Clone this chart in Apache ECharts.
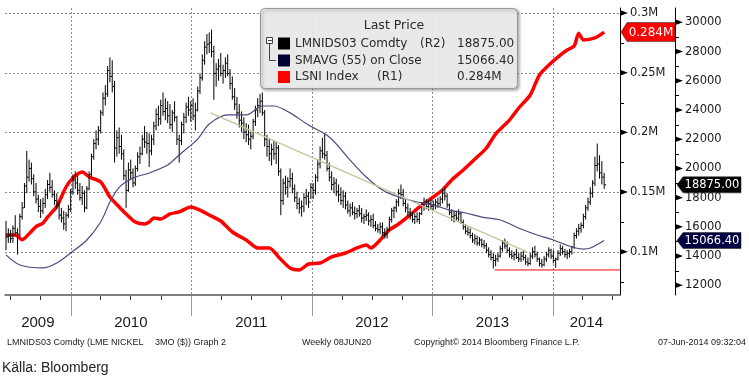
<!DOCTYPE html>
<html><head><meta charset="utf-8">
<script src="https://cdn.jsdelivr.net/npm/echarts@6/dist/echarts.min.js"></script>
<style>html,body{margin:0;padding:0;background:#fff}#c{width:749px;height:380px}</style>
</head><body><div id="c"></div>
<script>
// ---- data ----
const firstWeek = '2009-06-19';
const closes = [
15300,15400,15200,15900,15600,15500,16700,17300,18800,19400,
20000,19300,18400,17900,17400,17100,17600,18200,18900,18700,
18200,17800,17500,16800,16600,16200,16800,17200,18400,19200,
19000,18500,18000,18300,17300,18600,19600,20800,21700,22000,
22600,23800,24800,25100,26700,26300,25600,21400,22100,21500,
21000,19500,18500,19900,19700,19000,20000,20800,21000,22000,
21800,21700,21200,22000,22900,23700,23400,24300,23900,24100,
23600,23000,23800,23500,22000,21900,23000,23500,24200,24000,
24300,23600,24000,25300,26200,27400,28300,28500,28600,28000,
26500,26800,27000,26500,26700,27200,26500,25800,24900,24400,
23800,23300,23100,22500,22300,22000,22200,23200,24000,24300,
24600,23800,22000,21500,21000,21300,21000,21400,19800,17800,
19000,18700,19100,19300,18600,18000,17600,17300,17400,18000,
18100,17700,18700,18500,19400,20300,21200,21000,20900,20000,
19400,18900,19000,18400,18200,17800,18100,17500,17100,17300,
17000,16900,17100,16900,16600,16700,16800,16400,16500,16100,
15900,15800,16000,15600,15500,15800,16500,17100,17300,17700,
18300,18200,17600,17300,17000,16800,16500,16700,16500,16900,
17500,17600,17400,17600,17400,17500,17700,17600,17900,18300,
18100,17500,17000,16700,16800,16600,16900,16300,16000,15700,
15600,15400,15100,15200,14900,15100,14800,14700,14400,14100,
13900,13700,13800,14000,14500,14900,14700,14400,14100,14000,
14100,13900,13800,14000,13900,13600,13500,14000,14300,14100,
13800,13500,13400,13800,14100,14400,14000,13700,13800,14200,
14500,14300,14100,14200,14300,14600,15400,15700,15900,16100,
16700,17300,17700,18300,19000,20200,20300,19700,19400,18875];
const highs = [
16400,15900,15800,16100,16800,15900,16900,17700,19000,21200,
20600,20400,19600,19000,18200,17900,18000,18600,19200,19700,
19200,18500,18300,17800,17300,17100,17000,17500,18600,19600,
19800,19500,19000,18800,18500,18800,19800,21000,22000,22600,
22900,24000,25200,25700,27000,27600,27400,26000,22600,22800,
22300,21300,19900,20400,20600,20000,20200,21100,21500,22300,
22900,22500,22400,22300,23200,24100,24300,24700,25200,24800,
24600,24400,24000,24600,23600,22300,23200,23800,24500,24900,
24600,24800,24500,25600,26500,27800,28700,29200,29300,29500,
28400,27200,27500,27900,27100,27600,27800,26800,26300,25500,
24900,24400,23900,23500,23100,23000,22500,23400,24300,24800,
25100,25200,24000,22300,22000,21700,21900,21800,21600,20000,
19300,19500,19400,20000,19700,18900,18400,18000,17800,18300,
18600,18400,19000,19000,19600,20600,21500,22100,22400,21200,
20400,19800,19400,19300,18900,18700,18500,18400,17800,17600,
17700,17400,17300,17500,17300,16900,17200,17000,16800,16900,
16400,16200,16300,16300,15900,16000,16700,17300,17400,17900,
18600,18900,18600,17900,17600,17300,17000,16900,17000,17000,
17700,18000,17900,17800,17900,17800,17900,18000,18100,18600,
18700,18300,17600,17200,17100,17100,17200,17000,16500,16200,
16000,15900,15600,15500,15400,15300,15200,15100,14900,14600,
14400,14200,14100,14200,14700,15100,15200,15000,14600,14400,
14300,14500,14200,14300,14400,14100,13900,14200,14600,14700,
14300,13900,13800,14000,14300,14600,14500,14400,13900,14400,
14800,14700,14500,14400,14500,14700,15600,15900,16200,16300,
16900,17500,18000,18700,19200,20800,21700,20900,20500,19700];
const lows = [
14400,14900,14900,14900,15400,14100,15300,16500,17300,18300,
19100,18900,18100,17600,17000,16600,16900,17300,17900,18400,
18000,17500,17200,16500,16300,15800,15700,16600,17000,18200,
18600,18200,17800,17500,17000,17200,18500,19400,20600,21300,
21600,22400,23600,24300,24900,25900,25200,20400,20800,21000,
20600,19200,17300,18400,19200,18700,18800,19800,20300,20900,
21400,21000,20100,20900,21600,22600,22900,23000,23600,23300,
23100,22700,22500,23200,21600,20400,21600,22400,23100,23600,
23200,23300,22600,23900,25100,26000,27100,27800,27900,27600,
24700,25600,26000,26300,25800,26200,26300,25400,24700,24000,
23400,22800,22500,22000,21800,21600,21300,22000,22900,23500,
23800,23600,21500,20800,20500,20200,20600,20300,19500,16800,
17500,18200,18000,18700,18300,17700,17200,16900,16700,17000,
17500,17300,17900,17900,18200,19100,20000,20700,20600,19800,
19100,18500,18300,18100,17700,17500,17300,17200,16900,16700,
16800,16500,16600,16700,16300,16200,16400,16100,16000,15900,
15700,15600,15500,15400,15200,15200,15700,16300,16600,17000,
17400,17900,17400,17000,16700,16500,16300,16200,16300,16200,
16800,17100,17200,17100,17200,17100,17200,17300,17400,17600,
17800,17300,16800,16400,16300,16400,16400,16200,15800,15500,
15400,15200,14900,14800,14700,14700,14600,14500,14200,13900,
13700,13150,13300,13600,13900,14300,14500,14200,13900,13800,
13700,13800,13600,13600,13700,13400,13300,13400,13800,13900,
13600,13300,13200,13300,13600,13900,13800,13500,13200,13700,
14000,14100,13900,13800,13900,14100,14500,15200,15400,15600,
15900,16500,17100,17500,18000,18800,19800,19300,18900,18600];
// SMAVG (55) read at sample weeks
const smaWeeks  = [0,6,16,22,28,35,41,45,49,55,62,70,75,83,88,96,104,111,116,123,131,140,149,156,163,170,178,185,192,199,206,214,223,230,237,245,250,253,259];
const smaValues = [14080,13390,13190,13530,14210,15100,16330,17700,18700,19340,19690,20240,20920,22010,23040,23660,23660,24270,24270,23800,22970,22150,20570,19410,18520,18040,17700,17490,17150,16950,16670,16470,15850,15440,15100,14620,14480,14550,15066.4];
// LSNI Index (thousand tonnes) read at sample weeks
const lsniWeeks  = [0,4,7,10,13,16,18,22,26,29,33,36,41,45,49,52,56,60,62,64,67,71,75,80,84,88,93,98,104,109,114,118,123,127,131,136,141,147,152,156,158,162,166,170,175,179,185,189,193,198,204,208,212,218,222,227,231,236,240,243,246,248,250,255,259];
const lsniValues = [114,114,110,115,121,124,129,138,154.2,161.8,166.8,162.6,158.4,145.8,137.5,131.6,124.9,123.2,124.9,128.2,127.4,131.6,133.3,137.5,134.9,130.8,125.7,116.5,109.8,103.1,103.1,95.6,86.3,84.7,89.7,90.5,95.6,98.9,103.1,105.6,103.1,109.8,118.2,123.2,130.8,137.5,145.8,151.7,160.1,168.5,179.3,186.9,198.6,210.3,220.4,231.3,248.1,258.1,264.8,269.0,272.4,283,277.4,279.1,284.0];
const trendDates = ['2011-03-01','2013-10-15'];
const trendValues = [23800,14290];
const supportDates = ['2013-07-09','2014-07-24'];
const supportValues = [13050,13050];
const r1Ticks = [100,150,200,250,300];
const r1Minor = [75,125,175,225,275];
const r2Ticks = [12000,14000,16000,18000,20000,22000,24000,26000,28000,30000];
const r2Minor = [13000,15000,17000,19000,21000,23000,25000,27000,29000];
const yearTicks = ['2010-01-01','2011-01-01','2012-01-01','2013-01-01','2014-01-01'];
const yearLabels = ['2009','2010','2011','2012','2013','2014'];
const quarterTicks = ['2009-07-01','2009-10-01','2010-04-01','2010-07-01','2010-10-01','2011-04-01','2011-07-01','2011-10-01','2012-04-01','2012-07-01','2012-10-01','2013-04-01','2013-07-01','2013-10-01','2014-04-01','2014-07-01'];
const axisStart = '2009-06-16', axisEnd = '2014-07-24';
const lastPrice = 18875.00, lastSma = 15066.40, lastLsni = 284;
const legendRows = [
  {name:'LMNIDS03 Comdty', axis:'(R2)', value:'18875.00', color:'#000000'},
  {name:'SMAVG (55) on Close', axis:'', value:'15066.40', color:'#000033'},
  {name:'LSNI Index', axis:'(R1)', value:'0.284M', color:'#ff0000'}];
const footer = ['LMNIDS03 Comdty (LME NICKEL', '3MO ($)) Graph 2', 'Weekly 08JUN20', 'Copyright\u00a9 2014 Bloomberg Finance L.P.', '07-Jun-2014 09:32:04'];

// ---- helpers ----
const DAY = 864e5;
function ts(s){const p=s.split('-').map(Number);return Date.UTC(p[0],p[1]-1,p[2]);}
const t0 = ts(firstWeek);
function weekTs(i){return t0 + i*7*DAY;}
const FONT = '"DejaVu Sans", Verdana, sans-serif';
const NARROW = '"Liberation Sans Narrow", "Liberation Sans", Arial, sans-serif';
const GL = 5, GR = 129, GT = 8, GB = 85, W = 749, H = 380;
const AX1 = W - GR, AX2 = AX1 + 55, YB = H - GB;

const chart = echarts.init(document.getElementById('c'), null, {renderer:'canvas'});
const barData = closes.map((c,i)=>[weekTs(i), c, highs[i], lows[i]]);
chart.setOption({
  animation:false,
  backgroundColor:'#fff',
  grid:{left:GL, right:GR, top:GT, bottom:GB},
  xAxis:{type:'time', min:ts(axisStart), max:ts(axisEnd),
    axisLine:{show:true, lineStyle:{color:'#555', width:1.5}},
    axisTick:{show:false}, axisLabel:{show:false}, splitLine:{show:false}},
  yAxis:[
    {type:'value', position:'right', min:63.7, max:304.2,
     axisLine:{show:true, lineStyle:{color:'#000', width:1}}, axisTick:{show:false}, splitLine:{show:false},
     axisLabel:{customValues:r1Ticks, margin:10, color:'#1a1a1a', fontFamily:FONT, fontSize:11.5,
       formatter:v=>(v/1000)+'M'}},
    {type:'value', position:'right', offset:55, min:11336, max:30979,
     axisLine:{show:true, lineStyle:{color:'#000', width:1}}, axisTick:{show:false}, splitLine:{show:false},
     axisLabel:{customValues:r2Ticks, margin:10, color:'#1a1a1a', fontFamily:FONT, fontSize:11.5,
       formatter:v=>String(v)}}
  ],
  series:[
    {type:'line', name:'LSNI Index', yAxisIndex:0, data:lsniWeeks.map((w,k)=>[weekTs(w), lsniValues[k]]),
     showSymbol:false, smooth:0.25, lineStyle:{color:'#ff0000', width:3.5}, z:3},
    {type:'custom', name:'LMNIDS03 Comdty', yAxisIndex:1, data:barData, encode:{x:0, y:[1,2,3]}, z:4,
     renderItem:(params, api)=>{
       const t = api.value(0);
       const pc = api.coord([t, api.value(1)]);
       const ph = api.coord([t, api.value(2)]);
       const pl = api.coord([t, api.value(3)]);
       return {type:'group', children:[
         {type:'line', shape:{x1:pc[0], y1:ph[1], x2:pc[0], y2:pl[1]}, style:{stroke:'#000', lineWidth:1}},
         {type:'line', shape:{x1:pc[0], y1:pc[1], x2:pc[0]+2, y2:pc[1]}, style:{stroke:'#000', lineWidth:1}}
       ]};
     }},
    {type:'line', name:'SMAVG', yAxisIndex:1, data:smaWeeks.map((w,k)=>[weekTs(w), smaValues[k]]),
     showSymbol:false, smooth:0.3, lineStyle:{color:'#4a4a80', width:1.2}, z:5},
    {type:'line', name:'trend', yAxisIndex:1, data:trendDates.map((d,k)=>[ts(d), trendValues[k]]),
     showSymbol:false, lineStyle:{color:'#c4c49c', width:1.2}, z:5},
    {type:'line', name:'support', yAxisIndex:1, data:supportDates.map((d,k)=>[ts(d), supportValues[k]]),
     showSymbol:false, lineStyle:{color:'#ff0000', width:1}, z:5}
  ]
});

// ---- decorations through the library's scales ----
const px = v => chart.convertToPixel({xAxisIndex:0}, v);
const py1 = v => chart.convertToPixel({yAxisIndex:0}, v);
const py2 = v => chart.convertToPixel({yAxisIndex:1}, v);
const G = [];
const dot = {stroke:'#8a8a8a', lineWidth:1, lineDash:[2,2]};
r1Ticks.forEach(v=>{const y=Math.round(py1(v))+0.5; G.push({type:'line', silent:true, z:1, shape:{x1:GL,y1:y,x2:AX1,y2:y}, style:dot});});
yearTicks.forEach(d=>{const x=Math.round(px(ts(d)))+0.5; G.push({type:'line', silent:true, z:1, shape:{x1:x,y1:GT,x2:x,y2:YB}, style:dot});
  G.push({type:'line', silent:true, z:6, shape:{x1:x,y1:YB+1,x2:x,y2:YB+21}, style:{stroke:'#9a9a9a', lineWidth:1}});});
quarterTicks.forEach(d=>{const x=Math.round(px(ts(d)))+0.5; G.push({type:'line', silent:true, z:6, shape:{x1:x,y1:YB+1,x2:x,y2:YB+5}, style:{stroke:'#333', lineWidth:1}});});
const bounds = [axisStart].concat(yearTicks, [axisEnd]).map(d=>px(ts(d)));
yearLabels.forEach((s,k)=>{G.push({type:'text', silent:true, z:6, x:(bounds[k]+bounds[k+1])/2, y:323,
  style:{text:s, font:'15px '+NARROW, fill:'#1a1a1a', align:'center', verticalAlign:'middle'}});});
function arrows(ax, ticks, minor, f){
  ticks.forEach(v=>{const y=f(v); G.push({type:'polygon', silent:true, z:6, shape:{points:[[ax+0.5,y-2.8],[ax+8,y],[ax+0.5,y+2.8]]}, style:{fill:'#000'}});});
  minor.forEach(v=>{const y=Math.round(f(v))+0.5; G.push({type:'line', silent:true, z:6, shape:{x1:ax,y1:y,x2:ax+4,y2:y}, style:{stroke:'#000', lineWidth:1}});});
}
arrows(AX1, r1Ticks, r1Minor, py1);
arrows(AX2, r2Ticks, r2Minor, py2);
function tag(xTip, xEnd, y, h, fill, text, fs){
  G.push({type:'polygon', silent:true, z:20, shape:{points:[[xTip,y],[xTip+6,y-h/2],[xEnd,y-h/2],[xEnd,y+h/2],[xTip+6,y+h/2]]}, style:{fill:fill, stroke:'#333', lineWidth:0.6}});
  G.push({type:'text', silent:true, z:21, x:(xTip+6+xEnd)/2, y:y+0.5, style:{text:text, font:fs+'px '+FONT, fill:'#fff', align:'center', verticalAlign:'middle'}});
}
tag(AX1+1, AX2, py1(lastLsni), 19, '#ff0000', '0.284M', 12);
tag(AX2+2, 741, py2(lastPrice), 16, '#000000', '18875.00', 11.5);
tag(AX2+2, 741, py2(lastSma), 16, '#000040', '15066.40', 11.5);
// legend box
G.push({type:'rect', silent:true, z:10, shape:{x:260.5, y:8.5, width:257, height:80, r:4},
  style:{fill:'rgba(238,238,238,0.92)', stroke:'#9a9a9a', lineWidth:1, shadowBlur:3, shadowOffsetX:1.5, shadowOffsetY:1.5, shadowColor:'rgba(0,0,0,0.35)'}});
G.push({type:'text', silent:true, z:11, x:394, y:26, style:{text:'Last Price', font:'12.5px '+FONT, fill:'#2a2a2a', align:'center', verticalAlign:'middle'}});
const rowY = [43.5, 60.5, 77];
legendRows.forEach((r,k)=>{
  const y = rowY[k];
  G.push({type:'rect', silent:true, z:11, shape:{x:278, y:y-6, width:12, height:12}, style:{fill:r.color}});
  G.push({type:'text', silent:true, z:11, x:295, y:y, style:{text:r.name, font:'12px '+FONT, fill:'#2a2a2a', verticalAlign:'middle'}});
  if (r.axis) G.push({type:'text', silent:true, z:11, x:k===0?420:377, y:y, style:{text:r.axis, font:'12px '+FONT, fill:'#2a2a2a', verticalAlign:'middle'}});
  G.push({type:'text', silent:true, z:11, x:457, y:y, style:{text:r.value, font:'12px '+FONT, fill:'#2a2a2a', verticalAlign:'middle'}});
});
G.push({type:'rect', silent:true, z:11, shape:{x:266.5, y:37.5, width:6, height:6}, style:{fill:'#fff', stroke:'#444', lineWidth:1}});
G.push({type:'line', silent:true, z:12, shape:{x1:268, y1:40.5, x2:272, y2:40.5}, style:{stroke:'#444', lineWidth:1}});
G.push({type:'polyline', silent:true, z:11, shape:{points:[[269.5,44],[269.5,60.5],[276,60.5]]}, style:{stroke:'#444', lineWidth:1, fill:null}});
// footer
const fy = 343, ff = '9px "Liberation Sans", Arial, sans-serif';
[[7,'left'],[155,'left'],[302,'left'],[414,'left'],[746,'right']].forEach((p,k)=>{
  G.push({type:'text', silent:true, z:6, x:p[0], y:fy, style:{text:footer[k], font:ff, fill:'#222', align:p[1], verticalAlign:'middle'}});});
G.push({type:'text', silent:true, z:6, x:2, y:368, style:{text:'K\u00e4lla: Bloomberg', font:'14px '+NARROW, fill:'#222', verticalAlign:'middle'}});
chart.setOption({graphic:{elements:G}});
</script></body></html>
